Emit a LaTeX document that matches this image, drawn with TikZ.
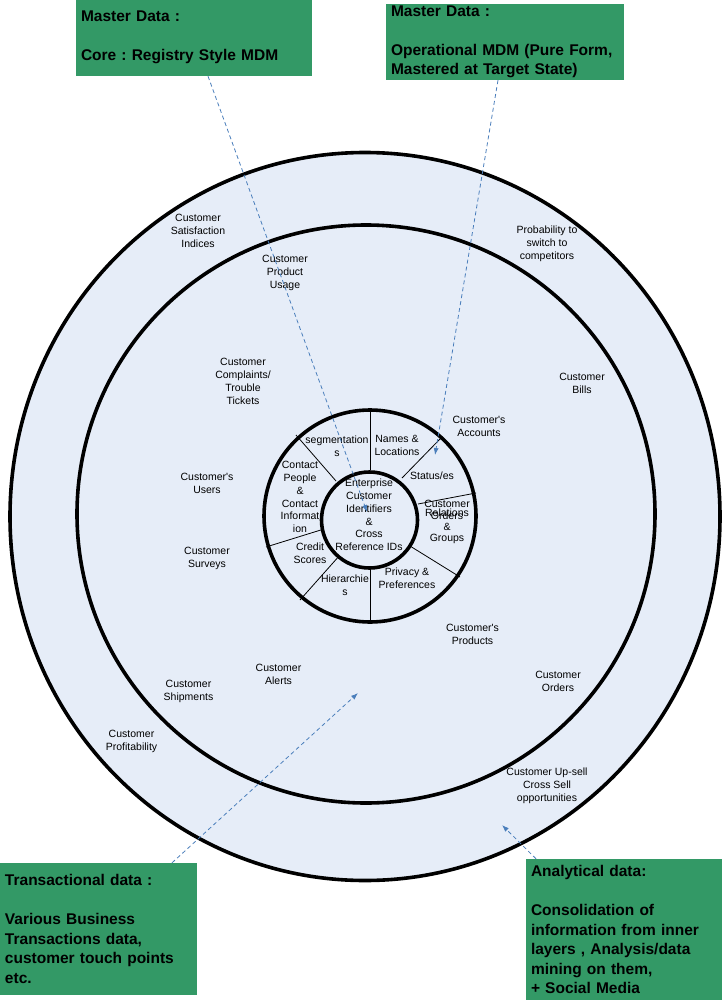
\documentclass[tikz,border=0pt]{standalone}
\usepackage{fontspec}
\setmainfont{Liberation Sans}[Ligatures=TeXOff]
\usetikzlibrary{arrows.meta}
\definecolor{bgblue}{HTML}{E6EDF8}
\definecolor{mgreen}{HTML}{339966}
\definecolor{dblue}{HTML}{4A7EBB}
\frenchspacing
\begin{document}
\begin{tikzpicture}[x=1pt,y=-1pt,
  lbl/.style={align=center,inner sep=0pt,font=\fontsize{10.5}{12.8}\selectfont},
  ringline/.style={line width=3.6pt,draw=black,fill=bgblue},
  divider/.style={line width=0.8pt,draw=black},
  gbox/.style={fill=mgreen,draw=none,align=left,inner xsep=5pt,inner ysep=0pt,
    font=\fontsize{15.5}{19.5}\selectfont\bfseries},
  callout/.style={draw=dblue,line width=0.8pt,dash pattern=on 4pt off 3pt,
    -{Latex[length=7pt,width=5pt]}}]
\useasboundingbox (0,0) rectangle (725,1003);
\fill[white] (0,0) rectangle (725,1003);
% circles
\draw[ringline] (365,516.5) ellipse [x radius=355pt, y radius=364pt];
\draw[ringline] (366,514) circle [radius=289pt];
\draw[ringline] (370,516) circle [radius=106pt];
% ring dividers
\draw[divider] (370,470) -- (370,412);
\draw[divider] (402,478) -- (440,439);
\draw[divider] (418,504) -- (476,493);
\draw[divider] (410,546) -- (460,577);
\draw[divider] (370,566) -- (370,621);
\draw[divider] (340,555) -- (300,600);
\draw[divider] (324,529) -- (266,547);
\draw[divider] (336,481) -- (296,435);
\draw[ringline] (369.5,520) circle [radius=48pt];
% outer ring labels
\node[lbl] (l1) at (198,231) {Customer\\Satisfaction\\Indices};
\node[lbl] (l2) at (547,244) {Probability to\\switch to\\competitors};
\node[lbl] (l3) at (285,273) {Customer\\Product\\Usage};
\node[lbl] (l4) at (243,381.5) {Customer\\Complaints/\\Trouble\\Tickets};
\node[lbl] (l5) at (582,383.5) {Customer\\Bills};
\node[lbl] (l6) at (479,426.5) {Customer's\\Accounts};
\node[lbl] (l7) at (207,483.5) {Customer's\\Users};
\node[lbl] (l8) at (207,558.5) {Customer\\Surveys};
\node[lbl] (l9) at (472.5,634.5) {Customer's\\Products};
\node[lbl] (l10) at (278.5,674.5) {Customer\\Alerts};
\node[lbl] (l11) at (558,681.5) {Customer\\Orders};
\node[lbl] (l12) at (188.5,691.5) {Customer\\Shipments};
\node[lbl] (l13) at (131.5,741.5) {Customer\\Profitability};
\node[lbl] (l14) at (547,786) {Customer Up-sell\\Cross Sell\\opportunities};
% inner ring labels
\node[lbl] (r1) at (337,446.5) {segmentation\\s};
\node[lbl] (r2) at (397,445.5) {Names \&\\Locations};
\node[lbl] (r3) at (432,476) {Status/es};
\node[lbl,font=\fontsize{10.5}{9.5}\selectfont] (r4) at (447,508.5) {Customer\\Relations};
\node[lbl,font=\fontsize{10.5}{11}\selectfont] (r5) at (447,528) {Orders\\\&\\Groups};
\node[lbl] (r6) at (300,497) {Contact\\People\\\&\\Contact\\Informat\\ion};
\node[lbl] (core) at (369,515) {Enterprise\\Customer\\Identifiers\\\&\\Cross\\Reference IDs};
\node[lbl] (r7) at (310,553.5) {Credit\\Scores};
\node[lbl] (r8) at (345,585.5) {Hierarchie\\s};
\node[lbl] (r9) at (407,578.5) {Privacy \&\\Preferences};
% green boxes
\node[gbox,minimum width=236pt,minimum height=77pt,text width=226pt] (md1) at (194,37.5)
  {Master Data :\\[19.5pt]Core : Registry Style MDM};
\node[gbox,minimum width=238pt,minimum height=76pt,text width=228pt] (md2) at (505,42)
  {Master Data :\\[19.5pt]Operational MDM (Pure Form,\\Mastered at Target State)};
\node[gbox,minimum width=197pt,minimum height=132pt,text width=187pt] (td) at (98.5,929)
  {Transactional data :\\[19.5pt]Various Business\\Transactions data,\\customer touch points\\etc.};
\node[gbox,minimum width=196pt,minimum height=141pt,text width=186pt] (ad) at (624,929.5)
  {Analytical data:\\[19.5pt]Consolidation of\\information from inner\\layers , Analysis/data\\mining on them,\\+ Social Media};
% callout arrows
\coordinate (tip1) at (367,512);
\coordinate (tip2) at (435,455);
\coordinate (tip3) at (358,693);
\coordinate (tip4) at (502,825);
\draw[callout] ([xshift=14pt]md1.south) -- (tip1);
\draw[callout] ([xshift=-7pt]md2.south) -- (tip2);
\draw[callout] ([xshift=73.5pt]td.north) -- (tip3);
\draw[callout] ([xshift=-88pt]ad.north) -- (tip4);
\end{tikzpicture}
\end{document}
